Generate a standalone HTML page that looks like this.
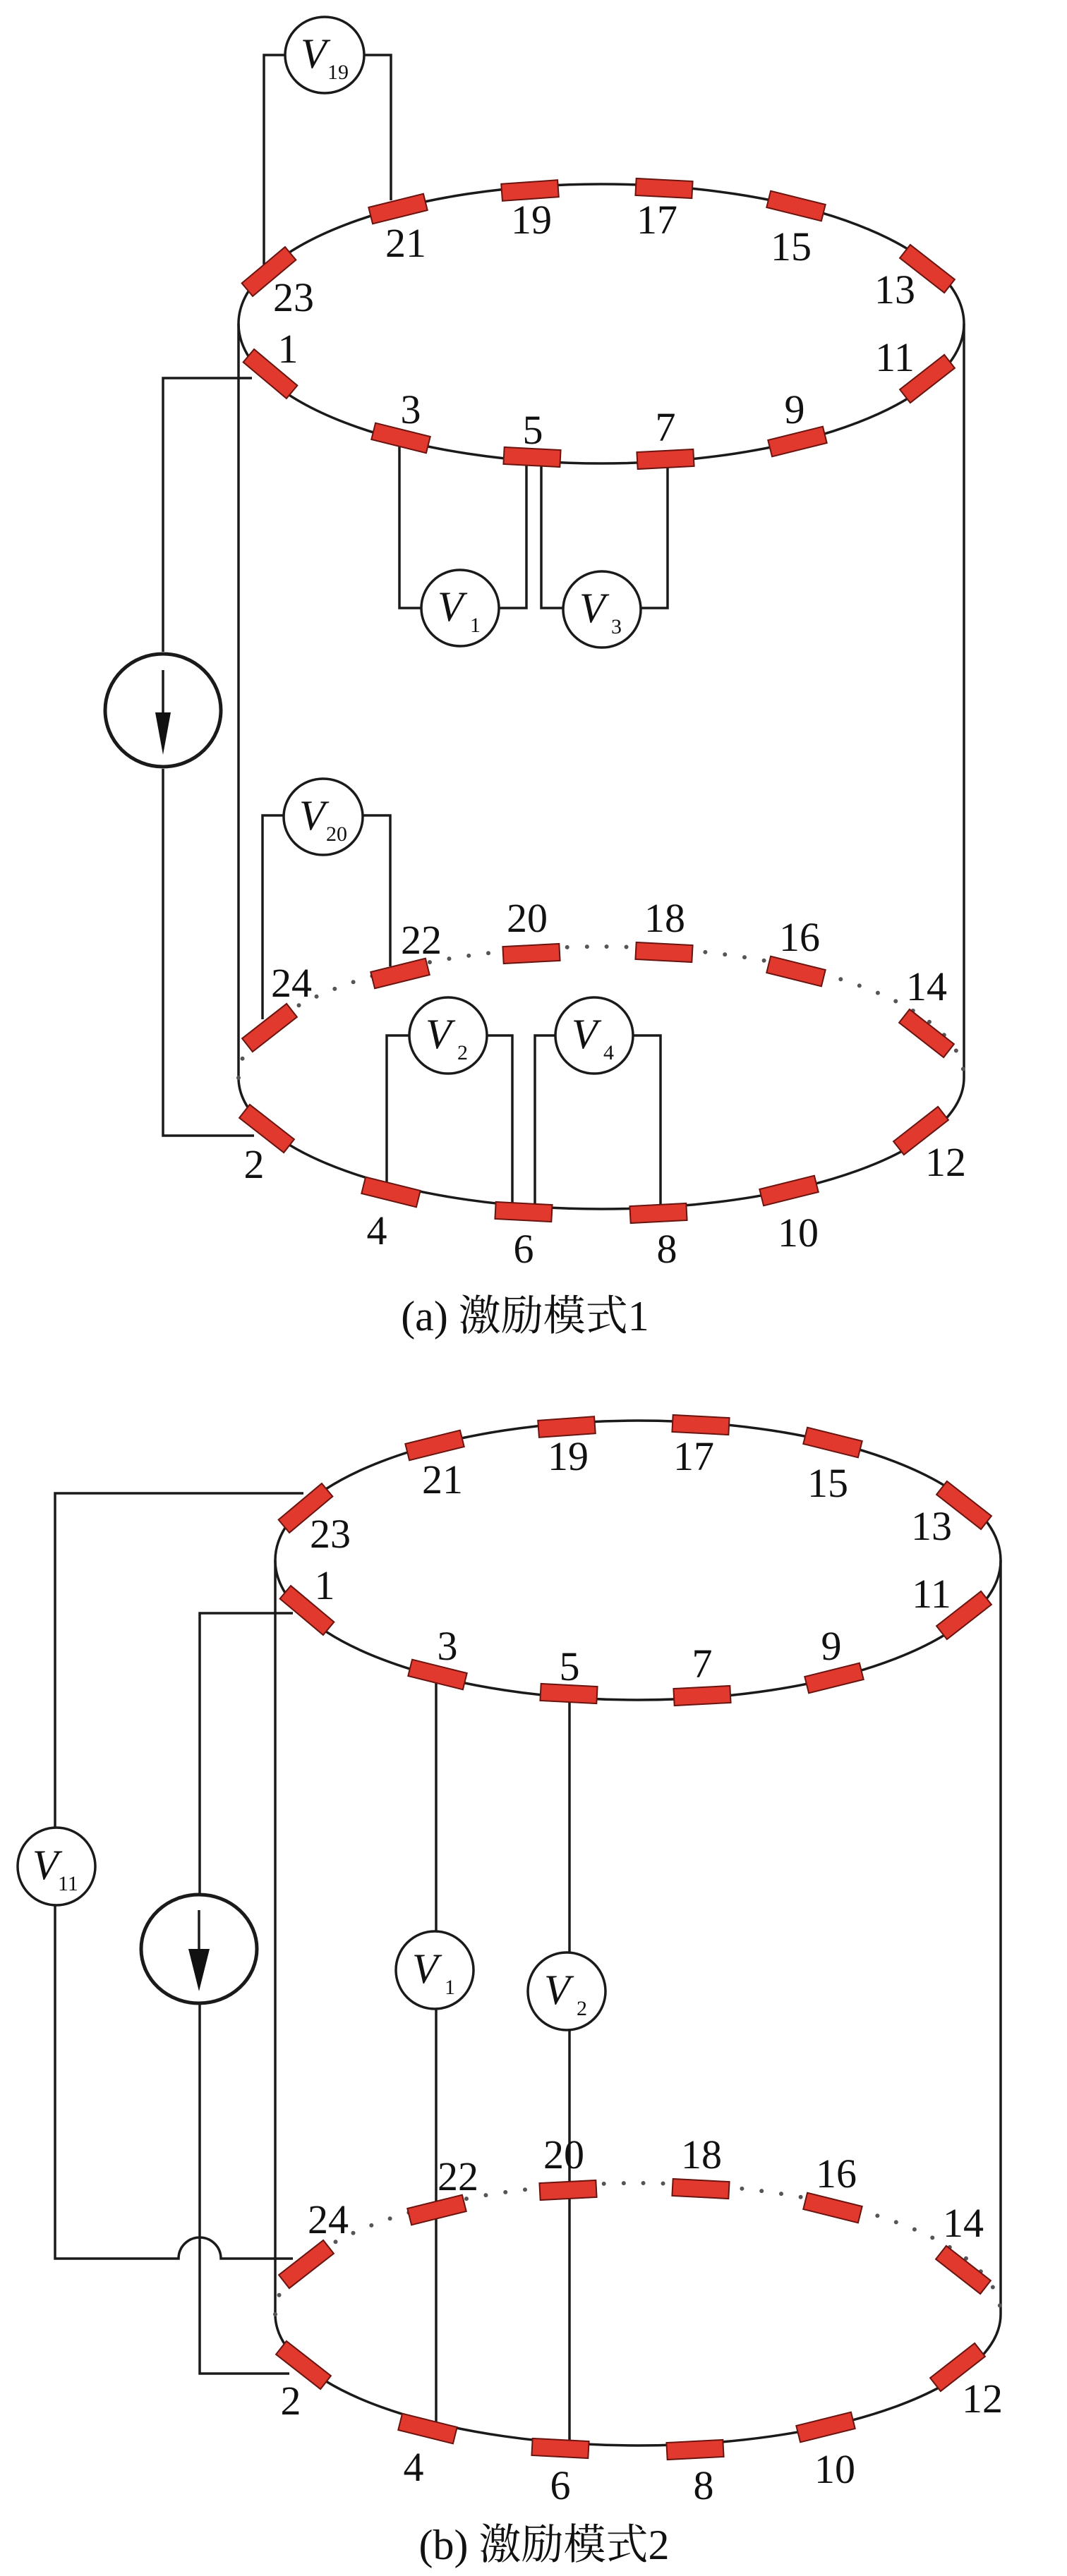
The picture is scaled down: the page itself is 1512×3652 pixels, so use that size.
<!DOCTYPE html>
<html><head><meta charset="utf-8"><style>
html,body{margin:0;padding:0;background:#fff;}
svg{display:block;}
text{font-family:"Liberation Serif","Noto Serif CJK SC",serif;fill:#111;}
.n{font-size:58px;text-anchor:middle;}
.v{font-size:60px;font-style:italic;}
.s{font-size:30px;}
.cap{font-size:60px;text-anchor:middle;}
</style></head><body>
<svg width="1512" height="3652" viewBox="0 0 1512 3652" xmlns="http://www.w3.org/2000/svg">
<defs>
<rect id="e" x="-40" y="-12" width="80" height="24" fill="#e2392e" stroke="#6a1410" stroke-width="2"/>
<g id="cyl">
  <ellipse cx="852" cy="459" rx="514" ry="198" fill="none" stroke="#1a1a1a" stroke-width="3.5"/>
  <line x1="338" y1="459" x2="338" y2="1528" stroke="#1a1a1a" stroke-width="3.5"/>
  <line x1="1366" y1="459" x2="1366" y2="1528" stroke="#1a1a1a" stroke-width="3.5"/>
  <path d="M338 1528 A514 186 0 0 0 1366 1528" fill="none" stroke="#1a1a1a" stroke-width="3.5"/>
  <path d="M338 1528 A514 186 0 0 1 1366 1528" fill="none" stroke="#555" stroke-width="6" stroke-dasharray="0 28" stroke-linecap="round"/>
  <use href="#e" transform="translate(381,385) rotate(-40)"/>
  <use href="#e" transform="translate(564,296) rotate(-14)"/>
  <use href="#e" transform="translate(751,270) rotate(-4)"/>
  <use href="#e" transform="translate(941,267) rotate(3)"/>
  <use href="#e" transform="translate(1128,292) rotate(14)"/>
  <use href="#e" transform="translate(1314,381) rotate(38)"/>
  <use href="#e" transform="translate(383,530) rotate(40)"/>
  <use href="#e" transform="translate(568,621) rotate(14)"/>
  <use href="#e" transform="translate(754,648) rotate(3)"/>
  <use href="#e" transform="translate(943,651) rotate(-3)"/>
  <use href="#e" transform="translate(1130,626) rotate(-14)"/>
  <use href="#e" transform="translate(1314,537) rotate(-38)"/>
  <use href="#e" transform="translate(382,1457) rotate(-38)"/>
  <use href="#e" transform="translate(567,1380) rotate(-14)"/>
  <use href="#e" transform="translate(753,1352) rotate(-3)"/>
  <use href="#e" transform="translate(941,1350) rotate(3)"/>
  <use href="#e" transform="translate(1128,1377) rotate(14)"/>
  <use href="#e" transform="translate(1313,1465) rotate(38)"/>
  <use href="#e" transform="translate(378,1600) rotate(38)"/>
  <use href="#e" transform="translate(554,1690) rotate(14)"/>
  <use href="#e" transform="translate(742,1718) rotate(3)"/>
  <use href="#e" transform="translate(933,1720) rotate(-3)"/>
  <use href="#e" transform="translate(1118,1688) rotate(-14)"/>
  <use href="#e" transform="translate(1305,1603) rotate(-38)"/>
</g>
</defs>

<g fill="none" stroke="#1a1a1a" stroke-width="3.5">
<polyline points="374,375 374,78 404,78"/>
<polyline points="516,78 554,78 554,284"/>
<polyline points="357,536 231,536 231,924"/>
<polyline points="231,1090 231,1610 360,1610"/>
<polyline points="566,630 566,862 597,862"/>
<polyline points="707,862 746,862 746,659"/>
<polyline points="767,659 767,862 798,862"/>
<polyline points="908,862 946,862 946,659"/>
<polyline points="372,1445 372,1156 402,1156"/>
<polyline points="514,1156 553,1156 553,1370"/>
<polyline points="548,1683 548,1468 580,1468"/>
<polyline points="690,1468 726,1468 726,1708"/>
<polyline points="758,1708 758,1468 787,1468"/>
<polyline points="897,1468 936,1468 936,1710"/>
<ellipse cx="460" cy="78" rx="56" ry="54" fill="#fff"/>
<ellipse cx="652" cy="862" rx="55" ry="54" fill="#fff"/>
<ellipse cx="853" cy="864" rx="55" ry="54" fill="#fff"/>
<ellipse cx="458" cy="1158" rx="56" ry="54" fill="#fff"/>
<ellipse cx="635" cy="1468" rx="55" ry="54" fill="#fff"/>
<ellipse cx="842" cy="1468" rx="55" ry="54" fill="#fff"/>
<ellipse cx="231" cy="1007" rx="82" ry="80" fill="#fff" stroke-width="5"/>
<line x1="231" y1="950" x2="231" y2="1010"/>

<polyline points="430,2117 78,2117 78,2591"/>
<path d="M78 2701 L78 3202 L253 3202 A30 30 0 0 1 313 3202 L415 3202"/>
<polyline points="415,2287 283,2287 283,2686"/>
<polyline points="283,2840 283,3365 410,3365"/>
<polyline points="618,2385 618,2738"/>
<polyline points="618,2848 618,3436"/>
<polyline points="807,2410 807,2768"/>
<polyline points="807,2878 807,3465"/>
<ellipse cx="80" cy="2646" rx="55" ry="55" fill="#fff"/>
<ellipse cx="616" cy="2793" rx="55" ry="55" fill="#fff"/>
<ellipse cx="803" cy="2823" rx="55" ry="55" fill="#fff"/>
<ellipse cx="282" cy="2763" rx="82" ry="77" fill="#fff" stroke-width="5"/>
<line x1="282" y1="2708" x2="282" y2="2766"/>
</g>
<polygon points="220,1010 242,1010 231,1070" fill="#111"/>
<polygon points="267,2763 297,2763 282,2823" fill="#111"/>

<use href="#cyl"/>
<use href="#cyl" transform="translate(52,1753)"/>

<text class="n" x="575" y="364">21</text>
<text class="n" x="753" y="331">19</text>
<text class="n" x="931" y="331">17</text>
<text class="n" x="1121" y="369">15</text>
<text class="n" x="1268" y="430">13</text>
<text class="n" x="416" y="441">23</text>
<text class="n" x="408" y="514">1</text>
<text class="n" x="582" y="600">3</text>
<text class="n" x="755" y="629">5</text>
<text class="n" x="943" y="625">7</text>
<text class="n" x="1126" y="600">9</text>
<text class="n" x="1268" y="526">11</text>
<text class="n" x="597" y="1352">22</text>
<text class="n" x="747" y="1321">20</text>
<text class="n" x="942" y="1321">18</text>
<text class="n" x="1133" y="1348">16</text>
<text class="n" x="1313" y="1418">14</text>
<text class="n" x="413" y="1413">24</text>
<text class="n" x="360" y="1670">2</text>
<text class="n" x="534" y="1764">4</text>
<text class="n" x="742" y="1790">6</text>
<text class="n" x="945" y="1790">8</text>
<text class="n" x="1131" y="1767">10</text>
<text class="n" x="1340" y="1667">12</text>
<text class="v" x="426" y="96">V</text><text class="s" x="464" y="112">19</text>
<text class="v" x="620" y="880">V</text><text class="s" x="666" y="896">1</text>
<text class="v" x="821" y="882">V</text><text class="s" x="866" y="898">3</text>
<text class="v" x="424" y="1176">V</text><text class="s" x="462" y="1192">20</text>
<text class="v" x="603" y="1486">V</text><text class="s" x="648" y="1502">2</text>
<text class="v" x="810" y="1486">V</text><text class="s" x="855" y="1502">4</text>
<text class="cap" x="744" y="1886">(a) 激励模式1</text>

<text class="n" x="627" y="2117">21</text>
<text class="n" x="805" y="2084">19</text>
<text class="n" x="983" y="2084">17</text>
<text class="n" x="1173" y="2122">15</text>
<text class="n" x="1320" y="2183">13</text>
<text class="n" x="468" y="2194">23</text>
<text class="n" x="460" y="2267">1</text>
<text class="n" x="634" y="2353">3</text>
<text class="n" x="807" y="2382">5</text>
<text class="n" x="995" y="2378">7</text>
<text class="n" x="1178" y="2353">9</text>
<text class="n" x="1320" y="2279">11</text>
<text class="n" x="649" y="3105">22</text>
<text class="n" x="799" y="3074">20</text>
<text class="n" x="994" y="3074">18</text>
<text class="n" x="1185" y="3101">16</text>
<text class="n" x="1365" y="3171">14</text>
<text class="n" x="465" y="3166">24</text>
<text class="n" x="412" y="3423">2</text>
<text class="n" x="586" y="3517">4</text>
<text class="n" x="794" y="3543">6</text>
<text class="n" x="997" y="3543">8</text>
<text class="n" x="1183" y="3520">10</text>
<text class="n" x="1392" y="3420">12</text>
<text class="v" x="46" y="2664">V</text><text class="s" x="82" y="2680">11</text>
<text class="v" x="584" y="2811">V</text><text class="s" x="630" y="2827">1</text>
<text class="v" x="771" y="2841">V</text><text class="s" x="817" y="2857">2</text>
<text class="cap" x="771" y="3628">(b) 激励模式2</text>
</svg>
</body></html>
